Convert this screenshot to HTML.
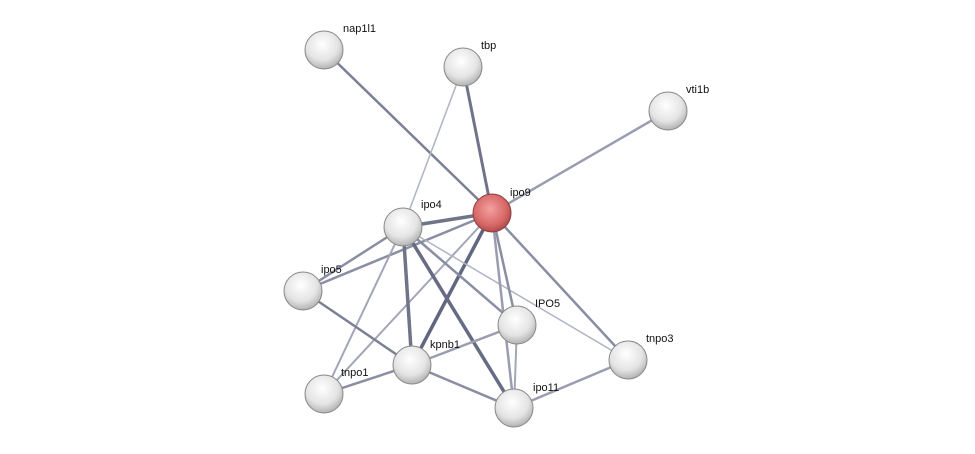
<!DOCTYPE html>
<html><head><style>
html,body{margin:0;padding:0;background:#fff;width:975px;height:454px;overflow:hidden}
text{font-family:"Liberation Sans",sans-serif;font-size:11px;fill:#111}
</style></head><body>
<svg width="975" height="454" xmlns="http://www.w3.org/2000/svg">
<defs>
<radialGradient id="g" cx="0.45" cy="0.35" r="0.7">
<stop offset="0" stop-color="#ffffff"/><stop offset="0.6" stop-color="#e4e4e4"/><stop offset="1" stop-color="#a8a8a8"/>
</radialGradient>
<radialGradient id="r" cx="0.45" cy="0.4" r="0.7">
<stop offset="0" stop-color="#f4a0a0"/><stop offset="0.6" stop-color="#d86868"/><stop offset="1" stop-color="#9a3a3a"/>
</radialGradient>
</defs>
<g stroke-linecap="round">
<line x1="324" y1="50" x2="492" y2="213" stroke="#7c8094" stroke-width="2.5"/>
<line x1="463" y1="67" x2="492" y2="213" stroke="#6f7489" stroke-width="3"/>
<line x1="463" y1="67" x2="403" y2="227" stroke="#b0b3c2" stroke-width="1.5"/>
<line x1="668" y1="111" x2="492" y2="213" stroke="#9a9db0" stroke-width="2.5"/>
<line x1="403" y1="227" x2="492" y2="213" stroke="#6f7489" stroke-width="3.5"/>
<line x1="403" y1="227" x2="303" y2="291" stroke="#8a8ea2" stroke-width="2.5"/>
<line x1="492" y1="213" x2="303" y2="291" stroke="#8a8ea2" stroke-width="2.5"/>
<line x1="403" y1="227" x2="324" y2="394" stroke="#a3a6b7" stroke-width="2"/>
<line x1="492" y1="213" x2="324" y2="394" stroke="#a3a6b7" stroke-width="2"/>
<line x1="403" y1="227" x2="412" y2="365" stroke="#6f7489" stroke-width="3.5"/>
<line x1="492" y1="213" x2="412" y2="365" stroke="#626780" stroke-width="3.5"/>
<line x1="403" y1="227" x2="514" y2="408" stroke="#676c84" stroke-width="3.5"/>
<line x1="403" y1="227" x2="517" y2="325" stroke="#8a8ea2" stroke-width="2.5"/>
<line x1="403" y1="227" x2="628" y2="360" stroke="#b0b3c2" stroke-width="1.5"/>
<line x1="492" y1="213" x2="517" y2="325" stroke="#8a8ea2" stroke-width="2.5"/>
<line x1="492" y1="213" x2="514" y2="408" stroke="#9a9db0" stroke-width="2.5"/>
<line x1="492" y1="213" x2="628" y2="360" stroke="#8a8ea2" stroke-width="2.5"/>
<line x1="303" y1="291" x2="412" y2="365" stroke="#7c8094" stroke-width="2.5"/>
<line x1="412" y1="365" x2="517" y2="325" stroke="#9a9db0" stroke-width="2.5"/>
<line x1="412" y1="365" x2="324" y2="394" stroke="#8a8ea2" stroke-width="2.5"/>
<line x1="412" y1="365" x2="514" y2="408" stroke="#8a8ea2" stroke-width="2.5"/>
<line x1="517" y1="325" x2="514" y2="408" stroke="#a3a6b7" stroke-width="2"/>
<line x1="514" y1="408" x2="628" y2="360" stroke="#9a9db0" stroke-width="2.5"/>
</g>
<g stroke="#888" stroke-width="1">
<circle cx="324" cy="50" r="19" fill="url(#g)"/>
<circle cx="463" cy="67" r="19" fill="url(#g)"/>
<circle cx="668" cy="111" r="19" fill="url(#g)"/>
<circle cx="403" cy="227" r="19" fill="url(#g)"/>
<circle cx="303" cy="291" r="19" fill="url(#g)"/>
<circle cx="517" cy="325" r="19" fill="url(#g)"/>
<circle cx="628" cy="360" r="19" fill="url(#g)"/>
<circle cx="412" cy="365" r="19" fill="url(#g)"/>
<circle cx="324" cy="394" r="19" fill="url(#g)"/>
<circle cx="514" cy="408" r="19" fill="url(#g)"/>
<circle cx="492" cy="213" r="19" fill="url(#r)" stroke="#8a4040"/>
</g>
<text x="343" y="32">nap1l1</text>
<text x="481" y="49">tbp</text>
<text x="686" y="93">vti1b</text>
<text x="510" y="196">ipo9</text>
<text x="421" y="208">ipo4</text>
<text x="321" y="273">ipo5</text>
<text x="535" y="307">IPO5</text>
<text x="646" y="342">tnpo3</text>
<text x="430" y="348">kpnb1</text>
<text x="341" y="376">tnpo1</text>
<text x="533" y="391">ipo11</text>
</svg>
</body></html>
